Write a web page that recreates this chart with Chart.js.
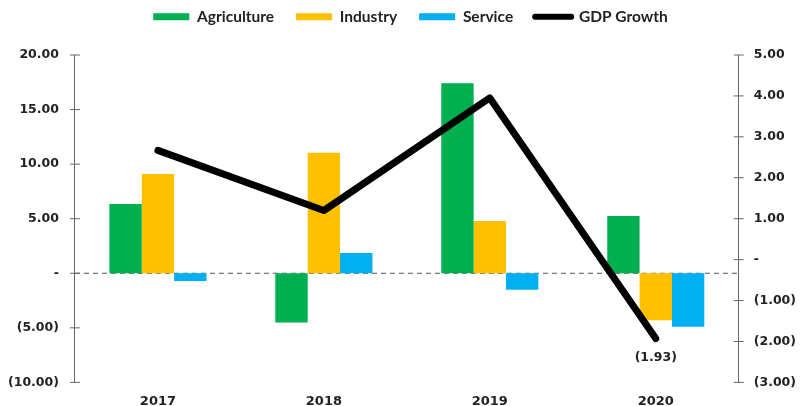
<!DOCTYPE html>
<html>
<head>
<meta charset="UTF-8">
<script src="https://cdn.jsdelivr.net/npm/chart.js"></script>
<style>
  html, body { margin: 0; padding: 0; background: #fff; }
  #wrap { width: 801px; height: 406px; }
</style>
</head>
<body>
<div id="wrap"><canvas id="c" width="801" height="406"></canvas></div>
<script>
// dados
const years = ['2017', '2018', '2019', '2020'];
const agriculture = [6.35, -4.5, 17.4, 5.25];
const industry = [9.1, 11.05, 4.8, -4.3];
const service = [-0.7, 1.85, -1.5, -4.9];
const gdpGrowth = [2.67, 1.2, 3.95, -1.93];

const textColor = '#222';
const tickFont = { family: 'DejaVu Sans', size: 12.5, weight: 'bold' };
const fmt = v => v === 0 ? '-' : (v < 0 ? '(' + Math.abs(v).toFixed(2) + ')' : v.toFixed(2));

// linha tracejada no zero + marcas dos eixos + rótulo do último ponto
const extras = {
  id: 'extras',
  beforeInit(chart) {
    // legenda mais alta para empurrar a área do gráfico para baixo
    const lg = chart.legend;
    const fit = lg.fit.bind(lg);
    lg.fit = function () { fit(); this.height = 68; };
  },
  afterLayout(chart) {
    // desloca a legenda um pouco para a direita
    chart.legend.left += 9;
    chart.legend.right += 9;
  },
  beforeDatasetsDraw(chart) {
    const { ctx, chartArea, scales } = chart;
    const y0 = scales.y.getPixelForValue(0);
    ctx.save();
    ctx.strokeStyle = '#555';
    ctx.lineWidth = 1;
    ctx.setLineDash([5, 4]);
    ctx.beginPath();
    ctx.moveTo(chartArea.left, y0);
    ctx.lineTo(chartArea.right, y0);
    ctx.stroke();
    ctx.setLineDash([]);
    ctx.strokeStyle = '#666';
    [['y', chartArea.left], ['y2', chartArea.right]].forEach(([id, x]) => {
      scales[id].ticks.forEach(t => {
        const y = scales[id].getPixelForValue(t.value);
        ctx.beginPath();
        ctx.moveTo(x - 5, y);
        ctx.lineTo(x + 5, y);
        ctx.stroke();
      });
    });
    ctx.restore();
  },
  afterDatasetsDraw(chart) {
    const { ctx } = chart;
    const meta = chart.getDatasetMeta(3);
    const last = meta.data[meta.data.length - 1];
    ctx.save();
    ctx.font = 'bold 12.5px "DejaVu Sans"';
    ctx.fillStyle = textColor;
    ctx.textAlign = 'center';
    ctx.textBaseline = 'middle';
    ctx.fillText(fmt(gdpGrowth[gdpGrowth.length - 1]), last.x, last.y + 19);
    ctx.restore();
  }
};

new Chart(document.getElementById('c'), {
  data: {
    labels: years,
    datasets: [
      { type: 'bar', label: 'Agriculture', data: agriculture, backgroundColor: '#00b050', yAxisID: 'y', order: 1 },
      { type: 'bar', label: 'Industry', data: industry, backgroundColor: '#ffc000', yAxisID: 'y', order: 1 },
      { type: 'bar', label: 'Service', data: service, backgroundColor: '#00b0f0', yAxisID: 'y', order: 1 },
      { type: 'line', label: 'GDP Growth', data: gdpGrowth, borderColor: '#000', backgroundColor: '#000',
        borderWidth: 7, pointRadius: 0, borderCapStyle: 'round', borderJoinStyle: 'round', yAxisID: 'y2', order: 0 }
    ]
  },
  options: {
    responsive: false,
    animation: false,
    layout: { padding: { left: -8, right: -10, top: -13, bottom: -14 } },
    datasets: { bar: { categoryPercentage: 0.585, barPercentage: 1.0 } },
    plugins: {
      tooltip: { enabled: false },
      legend: {
        position: 'top',
        labels: {
          font: { family: 'Lato', size: 15.5, weight: 'bold' },
          color: textColor,
          usePointStyle: true,
          pointStyleWidth: 36,
          boxHeight: 7,
          padding: 22,
          sort: (a, b) => a.datasetIndex - b.datasetIndex,
          generateLabels(chart) {
            const items = Chart.defaults.plugins.legend.labels.generateLabels(chart);
            items.forEach(it => {
              if (it.datasetIndex === 3) { it.pointStyle = 'line'; it.lineWidth = 6; it.lineCap = 'round'; }
              else { it.pointStyle = 'rect'; it.lineWidth = 0; }
            });
            return items;
          }
        }
      }
    },
    scales: {
      x: {
        grid: { display: false, drawTicks: false },
        border: { display: false },
        ticks: { font: { family: 'DejaVu Sans', size: 13, weight: 'bold' }, color: textColor, padding: 11 }
      },
      y: {
        position: 'left',
        min: -10, max: 20,
        grid: { display: false, drawTicks: false },
        border: { display: true, color: '#666', width: 1 },
        ticks: { stepSize: 5, font: tickFont, color: textColor, padding: 16, callback: v => fmt(v) }
      },
      y2: {
        position: 'right',
        min: -3, max: 5,
        grid: { display: false, drawTicks: false },
        border: { display: true, color: '#666', width: 1 },
        ticks: { stepSize: 1, font: tickFont, color: textColor, padding: 15, callback: v => fmt(v) }
      }
    }
  },
  plugins: [extras]
});
</script>
</body>
</html>
